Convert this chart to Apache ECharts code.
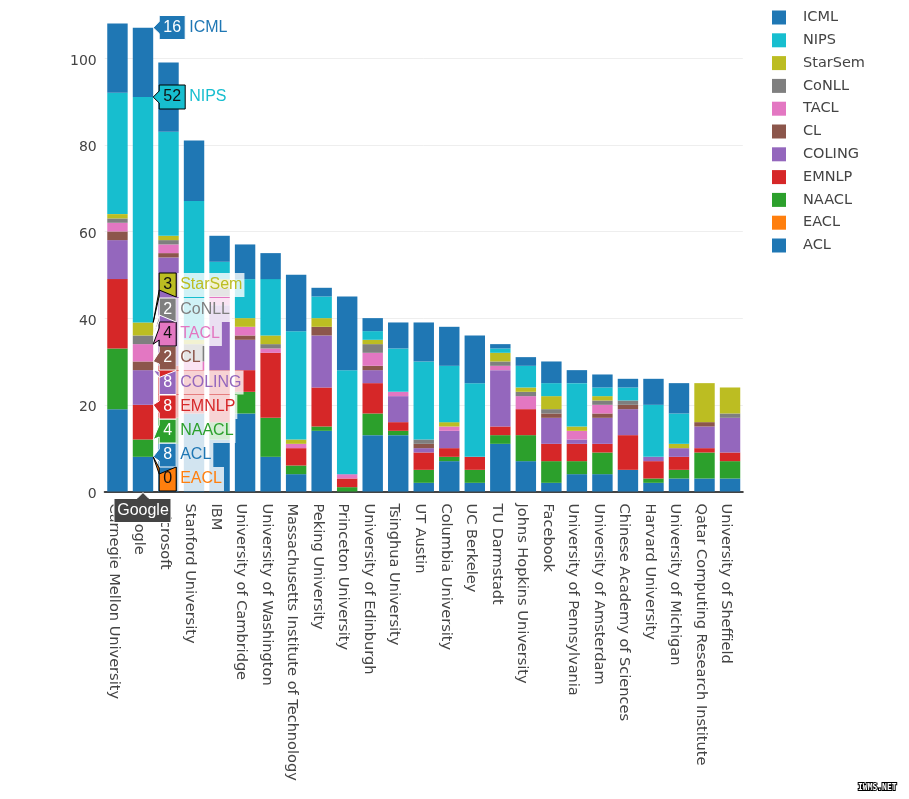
<!DOCTYPE html>
<html>
<head>
<meta charset="utf-8">
<style>html,body{margin:0;padding:0;background:#fff}#bar{width:909px;height:799px}</style>
<script src="https://cdn.jsdelivr.net/npm/echarts@6/dist/echarts.min.js"></script>
</head>
<body>
<div id="bar"></div>
<script>
var categories = ['Carnegie Mellon University','Google','Microsoft','Stanford University','IBM','University of Cambridge','University of Washington','Massachusetts Institute of Technology','Peking University','Princeton University','University of Edinburgh','Tsinghua University','UT Austin','Columbia University','UC Berkeley','TU Darmstadt','Johns Hopkins University','Facebook','University of Pennsylvania','University of Amsterdam','Chinese Academy of Sciences','Harvard University','University of Michigan','Qatar Computing Research Institute','University of Sheffield'];

// bottom of the stack first
var acl     = [19,8,11,18,12,18,8,4,14,0,13,13,2,7,2,11,7,2,4,4,5,2,3,3,3];
var eacl    = [0,0,0,0,0,0,0,0,0,0,0,0,0,0,0,0,0,0,0,0,0,0,0,0,0];
var naacl   = [14,4,6,0,4,5,9,2,1,1,5,1,3,1,3,2,6,5,3,5,0,1,2,6,4];
var emnlp   = [16,8,12,10,12,5,15,4,9,2,7,2,4,2,3,2,6,4,4,2,8,4,3,1,2];
var coling  = [9,8,25,0,15,7,0,0,12,0,3,6,1,4,0,13,0,6,1,6,6,1,2,5,8];
var cl      = [2,2,1,0,0,1,0,0,2,0,1,0,1,0,0,0,0,1,0,1,1,0,0,1,0];
var tacl    = [2,4,2,2,2,2,1,1,0,1,3,1,0,1,0,1,3,0,2,2,0,0,0,0,0];
var conll   = [1,2,1,4,2,0,1,0,0,0,2,0,1,0,0,1,1,1,0,1,1,0,0,0,1];
var starsem = [1,3,1,1,2,2,2,1,2,0,1,0,0,1,0,2,1,3,1,1,0,0,1,9,6];
var nips    = [28,52,24,32,4,9,13,25,5,24,2,10,18,13,17,1,5,3,10,2,3,12,7,0,0];
var icml    = [16,16,16,14,6,8,6,13,2,17,3,6,9,9,11,1,2,5,3,3,2,6,7,0,0];

var seriesNames = ['ACL','EACL','NAACL','EMNLP','COLING','CL','TACL','CoNLL','StarSem','NIPS','ICML'];
var seriesValues = [acl,eacl,naacl,emnlp,coling,cl,tacl,conll,starsem,nips,icml];
var seriesColors = ['#1f77b4','#ff7f0e','#2ca02c','#d62728','#9467bd','#8c564b','#e377c2','#7f7f7f','#bcbd22','#17becf','#1f77b4'];

// the hover on Google: which bar, and where each box ended up after plotly pushed them apart
var hoverIndex = 1;
var hoverBoxY = [455,479,431,407,382.5,358,334,310,285,97,27.5];
var hoverDark = [false,true,false,false,false,false,true,false,true,true,false];

var myChart = echarts.init(document.getElementById('bar'));
var tickFont = 'DejaVu Sans';
var hoverFont = 'Liberation Sans';

var hoverData = [];
var running = 0;
seriesNames.forEach(function (name, i) {
    running += seriesValues[i][hoverIndex];
    // ACL and EACL both point at the same stack height
    hoverData.push([hoverIndex, running, seriesValues[i][hoverIndex], i]);
});

function renderHover(params, api) {
    var i = api.value(3);
    var tip = api.coord([api.value(0), api.value(1)]);
    var half = api.size([1, 0])[0] * 0.4;
    var tx = tip[0] + half;
    var ty = tip[1];
    var bx = tx + 6;
    var cy = hoverBoxY[i];
    var label = String(api.value(2));
    var w = label.length * 9 + 8;
    var top = cy - 12, bot = cy + 12;
    var dark = hoverDark[i];
    var pts = [[tx,ty],[bx,Math.min(cy+6,bot)],[bx,bot],[bx+w,bot],[bx+w,top],[bx,top],[bx,Math.max(cy-6,top)]];
    if (ty < top) pts = [[tx,ty],[bx,top+1],[bx,bot],[bx+w,bot],[bx+w,top],[bx,top+7]].reverse();
    if (ty > bot) pts = [[tx,ty],[bx,bot-1],[bx,top],[bx+w,top],[bx+w,bot],[bx,bot-7]].reverse();
    return {
        type: 'group',
        children: [
            {
                type: 'polygon',
                shape: {points: pts},
                style: {fill: seriesColors[i], stroke: dark ? '#000' : '#fff', lineWidth: 1}
            },
            {
                type: 'text',
                x: bx + w + 1,
                y: cy,
                style: {
                    text: seriesNames[i], font: '16px ' + hoverFont, fill: seriesColors[i],
                    verticalAlign: 'middle', align: 'left',
                    backgroundColor: 'rgba(255,255,255,0.8)', padding: [4,2,4,3]
                }
            },
            {
                type: 'text',
                x: bx + w / 2,
                y: cy,
                style: {
                    text: label, font: '16px ' + hoverFont, fill: dark ? '#111' : '#fff',
                    verticalAlign: 'middle', align: 'center'
                }
            }
        ]
    };
}

// the dark category flag under the axis
function renderFlag(params, api) {
    var p = api.coord([api.value(0), 0]);
    var x = p[0], y = p[1];
    return {
        type: 'group',
        children: [
            {
                type: 'polygon',
                shape: {points: [[x,y+1],[x+6,y+7],[x+28,y+7],[x+28,y+31],[x-29,y+31],[x-29,y+7],[x-6,y+7]]},
                style: {fill: '#444', stroke: '#fff', lineWidth: 1}
            },
            {
                type: 'text',
                x: x,
                y: y + 19,
                style: {text: categories[api.value(0)], font: '16px ' + hoverFont, fill: '#fff', align: 'center', verticalAlign: 'middle'}
            }
        ]
    };
}

var series = seriesNames.map(function (name, i) {
    return {
        name: name,
        type: 'bar',
        stack: 'total',
        barCategoryGap: '20%',
        itemStyle: {color: seriesColors[i]},
        data: seriesValues[i]
    };
});
series.push({type: 'custom', name: 'hover', z: 20, clip: false, renderItem: renderHover, data: hoverData, silent: true});
series.push({type: 'custom', name: 'flag', z: 21, clip: false, renderItem: renderFlag, data: [[hoverIndex, 0]], silent: true});

myChart.setOption({
    animation: false,
    backgroundColor: '#fff',
    textStyle: {fontFamily: tickFont},
    tooltip: {show: false},
    grid: {left: 104.7, right: 166.2, top: 0, bottom: 307.5},
    legend: {
        orient: 'vertical',
        left: 772,
        top: 10,
        padding: 0,
        itemWidth: 14,
        itemHeight: 14,
        itemGap: 7.8,
        icon: 'rect',
        data: seriesNames.slice().reverse(),
        selectedMode: false,
        textStyle: {color: '#444', fontFamily: tickFont, fontSize: 14.5, padding: [0,0,0,12]}
    },
    xAxis: {
        type: 'category',
        data: categories,
        axisTick: {show: false},
        axisLine: {lineStyle: {color: '#444', width: 2}},
        axisLabel: {interval: 0, rotate: -90, margin: 12, verticalAlign: 'top', lineHeight: 8, color: '#444', fontFamily: tickFont, fontSize: 14.55}
    },
    yAxis: {
        type: 'value',
        min: 0,
        max: 113.4,
        interval: 20,
        axisLine: {show: false},
        axisTick: {show: false},
        axisLabel: {showMaxLabel: false, margin: 8, verticalAlign: 'top', lineHeight: 6, color: '#444', fontFamily: tickFont, fontSize: 14},
        splitLine: {showMaxLine: false, lineStyle: {color: '#eee', width: 1}}
    },
    graphic: [{
        type: 'text',
        left: 857,
        top: 783,
        style: {text: 'IWMS.NET', font: 'bold 8px "DejaVu Sans Mono"', fill: '#fff', stroke: '#000', lineWidth: 2}
    }],
    series: series
});
</script>
</body>
</html>
